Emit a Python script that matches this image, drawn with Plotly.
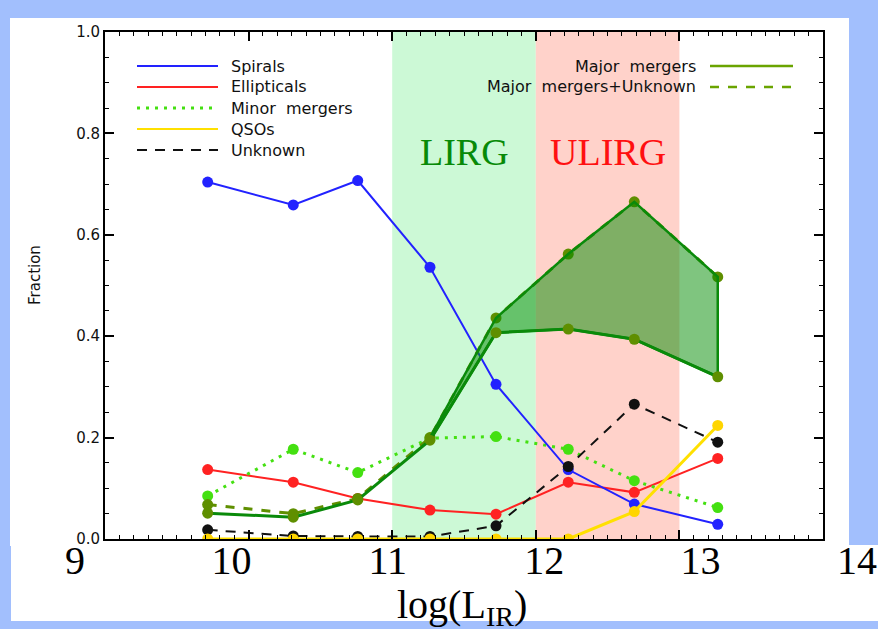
import plotly.graph_objects as go

# ---------------- data ----------------
x_lir = [9.715, 10.311, 10.76, 11.263, 11.723, 12.226, 12.686, 13.267]
spirals = [0.704, 0.659, 0.707, 0.536, 0.305, 0.137, 0.069, 0.029]
ellipticals = [0.137, 0.112, 0.080, 0.057, 0.049, 0.112, 0.092, 0.159]
minor_mergers = [0.085, 0.177, 0.131, 0.199, 0.202, 0.177, 0.115, 0.062]
qsos = [0.0, 0.0, 0.0, 0.0, 0.0, 0.0, 0.054, 0.224]
unknown = [0.018, 0.006, 0.005, 0.005, 0.026, 0.143, 0.266, 0.191]
major_mergers = [0.051, 0.043, 0.077, 0.195, 0.407, 0.414, 0.394, 0.320]
major_plus_unknown = [0.068, 0.050, 0.080, 0.200, 0.436, 0.562, 0.665, 0.517]
fill_start = 3  # shaded area between the two major-merger curves starts here

x_tick_vals = [9, 10, 11, 12, 13, 14]
x_tick_labels = ["9", "10", "11", "12", "13", "14"]
y_tick_vals = [0.0, 0.2, 0.4, 0.6, 0.8, 1.0]
y_tick_labels = ["0.0", "0.2", "0.4", "0.6", "0.8", "1.0"]
lirg_band = [11, 12]
ulirg_band = [12, 13]

legend_left = ["Spirals", "Ellipticals", "Minor  mergers", "QSOs", "Unknown"]
legend_right = ["Major  mergers", "Major  mergers+Unknown"]

# ---------------- styling ----------------
W, H = 878, 629
def px(x):
    return x / W
def py(y):
    return 1 - y / H

BLUE = "#2222ff"
RED = "#ff2222"
LIME = "#44e011"
YELLOW = "#ffe000"
BLACK = "#111111"
DGREEN = "#0a8a0a"
OLIVE = "#5f8f00"
LEGOLIVE = "#6aa400"
MS = 11

fig = go.Figure()

def series(y, color, dash="solid", width=2, mcolor=None):
    fig.add_trace(go.Scatter(
        x=x_lir, y=y, mode="lines+markers",
        line=dict(color=color, width=width, dash=dash),
        marker=dict(size=MS, color=mcolor or color),
        showlegend=False, hoverinfo="skip"))

series(ellipticals, RED)
series(minor_mergers, LIME, dash="3px,6px", width=3)
series(spirals, BLUE)
series(unknown, BLACK, dash="10px,8px")
series(qsos, YELLOW, width=3, mcolor="#ffd500")
series(major_plus_unknown, OLIVE, dash="9px,9px", width=3, mcolor=OLIVE)

# shaded polygon between major and major+unknown
fx = x_lir[fill_start:] + x_lir[fill_start:][::-1]
fy = major_plus_unknown[fill_start:] + major_mergers[fill_start:][::-1]
fx.append(fx[0]); fy.append(fy[0])
fig.add_trace(go.Scatter(
    x=fx, y=fy, mode="lines", fill="toself",
    fillcolor="rgba(0,140,0,0.5)", line=dict(color=DGREEN, width=2.5),
    showlegend=False, hoverinfo="skip"))

series(major_mergers, DGREEN, width=3, mcolor=OLIVE)

# invisible trace hosting the tick-label axis
fig.add_trace(go.Scatter(x=[x_tick_vals[0], x_tick_vals[-1]], y=[0, 0], mode="markers",
                         marker=dict(opacity=0), xaxis="x2", yaxis="y2",
                         showlegend=False, hoverinfo="skip"))

shapes = []
# white panels (composite background)
shapes.append(dict(type="rect", xref="paper", yref="paper", x0=px(10), x1=px(849),
                   y0=py(546), y1=py(18), fillcolor="white", line_width=0, layer="below"))
shapes.append(dict(type="rect", xref="paper", yref="paper", x0=px(11), x1=px(878),
                   y0=py(621), y1=py(545), fillcolor="white", line_width=0, layer="below"))
# luminosity bands
shapes.append(dict(type="rect", xref="x", yref="y", x0=lirg_band[0], x1=lirg_band[1],
                   y0=0, y1=1, fillcolor="#ccf9d6", line_width=0, layer="below"))
shapes.append(dict(type="rect", xref="x", yref="y", x0=ulirg_band[0], x1=ulirg_band[1],
                   y0=0, y1=1, fillcolor="#ffd2ca", line_width=0, layer="below"))

annotations = []
LFONT = dict(family="DejaVu Sans", size=16, color="#111111")
# left legend
left_styles = [(BLUE, "solid", 2), (RED, "solid", 2), (LIME, "3px,6px", 3),
               (YELLOW, "solid", 2), (BLACK, "10px,8px", 2)]
left_rows = [66, 87, 108, 129, 150]
for name, (c, d, w), yy in zip(legend_left, left_styles, left_rows):
    shapes.append(dict(type="line", xref="paper", yref="paper", x0=px(137), x1=px(218),
                       y0=py(yy), y1=py(yy), line=dict(color=c, dash=d, width=w)))
    annotations.append(dict(text=name, xref="paper", yref="paper", x=px(229), y=py(yy),
                            xanchor="left", yanchor="middle", showarrow=False, font=LFONT))
# right legend
right_styles = [(LEGOLIVE, "solid", 2.5), (LEGOLIVE, "9px,9px", 2.5)]
right_rows = [66, 87]
for name, (c, d, w), yy in zip(legend_right, right_styles, right_rows):
    shapes.append(dict(type="line", xref="paper", yref="paper", x0=px(710), x1=px(793),
                       y0=py(yy), y1=py(yy), line=dict(color=c, dash=d, width=w)))
    annotations.append(dict(text=name, xref="paper", yref="paper", x=px(698), y=py(yy),
                            xanchor="right", yanchor="middle", showarrow=False, font=LFONT))

# band labels
annotations.append(dict(text="LIRG", xref="x", yref="y", x=sum(lirg_band) / 2, y=0.763,
                        showarrow=False, font=dict(family="Liberation Serif", size=38, color="#078a07")))
annotations.append(dict(text="ULIRG", xref="x", yref="y", x=sum(ulirg_band) / 2, y=0.763,
                        showarrow=False, font=dict(family="Liberation Serif", size=38, color="#ff1010")))
# axis titles
annotations.append(dict(text="log(L<sub>IR</sub>)", xref="paper", yref="paper", x=px(462), y=py(607),
                        xanchor="center", yanchor="middle", showarrow=False,
                        font=dict(family="Liberation Serif", size=40, color="black")))
annotations.append(dict(text="Fraction", xref="paper", yref="paper", x=px(35), y=py(275),
                        xanchor="center", yanchor="middle", textangle=-90, showarrow=False,
                        font=dict(family="DejaVu Sans", size=15, color="#111111")))

fig.update_layout(
    width=W, height=H,
    margin=dict(l=0, r=0, t=0, b=0),
    paper_bgcolor="#a2bffd",
    plot_bgcolor="rgba(0,0,0,0)",
    shapes=shapes,
    annotations=annotations,
    xaxis=dict(domain=[px(105), px(823)], range=[9, 14], showgrid=False, zeroline=False,
               automargin=False, anchor="y",
               showline=True, linecolor="black", linewidth=2, mirror="ticks",
               ticks="inside", ticklen=9, tickwidth=1.5, tickcolor="black",
               tickvals=x_tick_vals, showticklabels=False,
               minor=dict(ticks="inside", dtick=0.1, ticklen=4, tickwidth=1.2, tickcolor="black")),
    xaxis2=dict(domain=[px(75), px(857)], range=[9, 14], anchor="free", position=py(533),
                automargin=False,
                showgrid=False, zeroline=False, showline=False, ticks="",
                tickvals=x_tick_vals, ticktext=x_tick_labels,
                tickfont=dict(family="Liberation Serif", size=40, color="black")),
    yaxis=dict(domain=[py(539), py(32)], range=[0, 1], showgrid=False, zeroline=False,
               automargin=False, anchor="x",
               showline=True, linecolor="black", linewidth=2, mirror="ticks",
               ticks="inside", ticklen=9, tickwidth=1.5, tickcolor="black",
               tickvals=y_tick_vals, ticktext=y_tick_labels,
               tickfont=dict(family="DejaVu Sans", size=15, color="#111111"),
               minor=dict(ticks="inside", dtick=0.05, ticklen=4, tickwidth=1.2, tickcolor="black")),
    yaxis2=dict(domain=[py(539), py(32)], range=[0, 1], visible=False, anchor="x2",
                automargin=False, showgrid=False, zeroline=False),
)

fig.write_html("out.html")
